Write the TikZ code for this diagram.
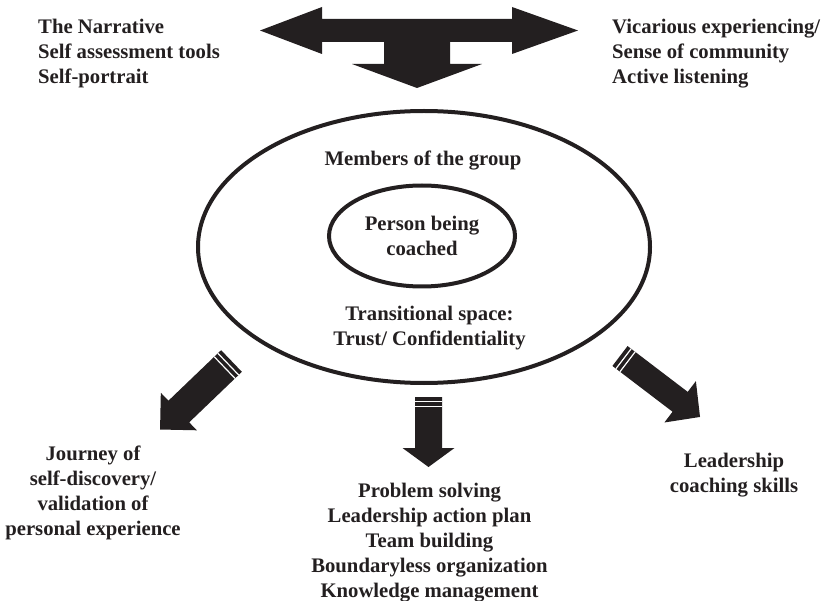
\documentclass[tikz,border=0pt]{standalone}
\usepackage{fontspec}
\setmainfont{Liberation Serif}
\usetikzlibrary{shapes.geometric}
\definecolor{ink}{HTML}{231F20}

\begin{document}
\begin{tikzpicture}[
      x=1pt, y=-1pt,
      txt/.style={inner sep=0pt, text=ink, font=\fontsize{20.7}{25}\selectfont\bfseries},
      ring/.style={ellipse, draw=ink, line width=4pt, inner sep=0pt},
      fatarrow/.style={fill=ink},
      stripe/.style={draw=white, line width=1.2pt}
    ]
      \useasboundingbox (0,0) rectangle (824,601);

      % Ellipses
      \node[ring, minimum width=452pt, minimum height=272pt] (grp) at (424,247) {};
      \node[ring, txt, minimum width=186pt, minimum height=101pt, align=center] (person) at (422,236) {Person being\\coached};

      % Texts inside the group
      \node[txt, anchor=north] (members) at (423,151) {Members of the group};
      \node[txt, anchor=north, align=center] (transit) at (429.5,306) {Transitional space:\\Trust/ Confidentiality};

      % Outer texts
      \node[txt, anchor=north west, align=left] (tools) at (38,19) {The Narrative\\Self assessment tools\\Self-portrait};
      \node[txt, anchor=north west, align=left] (community) at (612,19) {Vicarious experiencing/\\Sense of community\\Active listening};
      \node[txt, anchor=north, align=center] (journey) at (93,446) {Journey of\\self-discovery/\\validation of\\personal experience};
      \node[txt, anchor=north, align=center] (planning) at (429.5,483) {Problem solving\\Leadership action plan\\Team building\\Boundaryless organization\\Knowledge management};
      \node[txt, anchor=north, align=center] (skills) at (734,453) {Leadership\\coaching skills};

      % Top arrow
      \fill[fatarrow] (260,30.5) -- (322,7) -- (322,19) -- (512,19) -- (512,7) -- (578,30.5) -- (512,54) -- (512,42)
        -- (450,42) -- (450,64) -- (482,64) -- (417,88) -- (352,64) -- (384,64) -- (384,42) -- (322,42) -- (322,54) -- cycle;

      % Striped arrows
      \coordinate (lefttail) at (231.5,361);
      \coordinate (midtail) at (428.5,397);
      \coordinate (righttail) at (620,356);
      \begin{scope}[shift={(lefttail)}, rotate=-136.2]
        \fill[fatarrow] (0,-15) -- (73,-15) -- (73,-26) -- (99,0) -- (73,26) -- (73,15) -- (0,15) -- cycle;
        \draw[stripe] (4.5,-15) -- (4.5,15) (9.5,-15) -- (9.5,15);
      \end{scope}
      \begin{scope}[shift={(midtail)}, rotate=-90]
        \fill[fatarrow] (0,-13.5) -- (51,-13.5) -- (51,-26) -- (70,0) -- (51,26) -- (51,13.5) -- (0,13.5) -- cycle;
        \draw[stripe] (4.5,-13.5) -- (4.5,13.5) (9.5,-13.5) -- (9.5,13.5);
      \end{scope}
      \begin{scope}[shift={(righttail)}, rotate=-37.3]
        \fill[fatarrow] (0,-12.5) -- (75.6,-12.5) -- (75.6,-26) -- (100.6,0) -- (75.6,26) -- (75.6,12.5) -- (0,12.5) -- cycle;
        \draw[stripe] (4.5,-12.5) -- (4.5,12.5) (9.5,-12.5) -- (9.5,12.5);
      \end{scope}

    \end{tikzpicture}
\end{document}
